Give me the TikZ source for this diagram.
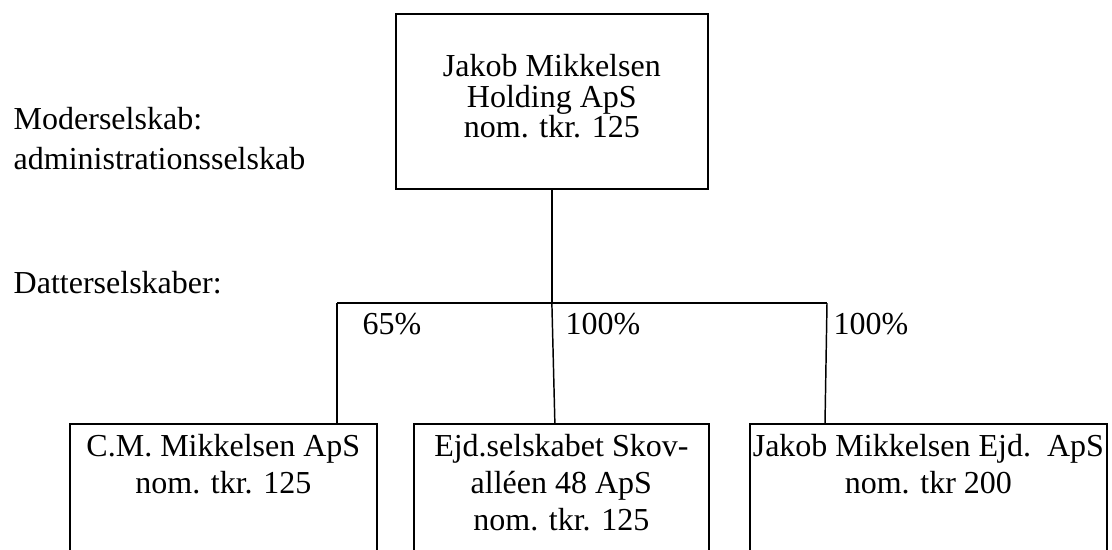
\documentclass[tikz,border=0pt]{standalone}
\usepackage{fontspec}
\setmainfont{Liberation Serif}
\def\pxu{0.75pt}
\begin{document}
\begin{tikzpicture}[x=0.75pt,y=-0.75pt,
  line width=1.1pt,
  box/.style={draw, line width=1.3pt, rectangle, inner sep=0pt},
  boxtext/.style={inner sep=0pt, align=center, font=\fontsize{24}{27.4}\selectfont},
  lbl/.style={inner sep=0pt, anchor=base west, font=\fontsize{24}{28}\selectfont},
  conn/.style={line width=1.1pt}]
\clip (0,0) rectangle (1112,549);
% top box
\node[box, anchor=north west, minimum width={312*\pxu}, minimum height={175*\pxu}] (hold) at (395,13) {};
\node[boxtext, font=\fontsize{24}{23}\selectfont] (holdt) at ([yshift=5*\pxu]hold.center)
  {Jakob Mikkelsen\\Holding ApS\\nom. tkr. 125};
% side labels
\node[lbl] (mod) at (13,130) {Moderselskab:};
\node[lbl] (adm) at (13,170) {administrationsselskab};
\node[lbl] (dat) at (13,293) {Datterselskaber:};
% bottom boxes (cut off at the lower edge)
\node[box, anchor=north west, minimum width={307*\pxu}, minimum height={160*\pxu}] (cm) at (69,423) {};
\node[box, anchor=north west, minimum width={295*\pxu}, minimum height={160*\pxu}] (ejd) at (413,423) {};
\node[box, anchor=north west, minimum width={357*\pxu}, minimum height={160*\pxu}] (jme) at (749,423) {};
\node[boxtext, anchor=north] (cmt) at ([yshift=-11*\pxu]cm.north) {C.M. Mikkelsen ApS\\nom. tkr. 125};
\node[boxtext, anchor=north] (ejdt) at ([yshift=-11*\pxu]ejd.north) {Ejd.selskabet Skov-\\alléen 48 ApS\\nom. tkr. 125};
\node[boxtext, anchor=north] (jmet) at ([yshift=-11*\pxu]jme.north) {Jakob Mikkelsen Ejd.\ \ ApS\\nom. tkr 200};
% connectors
\coordinate (jL) at (337,303);
\coordinate (jM) at (hold.south |- jL);
\coordinate (jR) at (827,303);
\draw[conn] (hold.south) -- (jM);
\draw[conn] (jL) -- (jR);
\draw[conn] (jL) -- (jL |- cm.north);
\draw[conn] (jM) -- ([xshift=3*\pxu]jM |- ejd.north);
\draw[conn] (jR) -- ([xshift=-2*\pxu]jR |- jme.north);
% percentages
\node[lbl] (p1) at (362,334) {65\%};
\node[lbl] (p2) at (565,334) {100\%};
\node[lbl] (p3) at (833,334) {100\%};
\end{tikzpicture}
\end{document}
